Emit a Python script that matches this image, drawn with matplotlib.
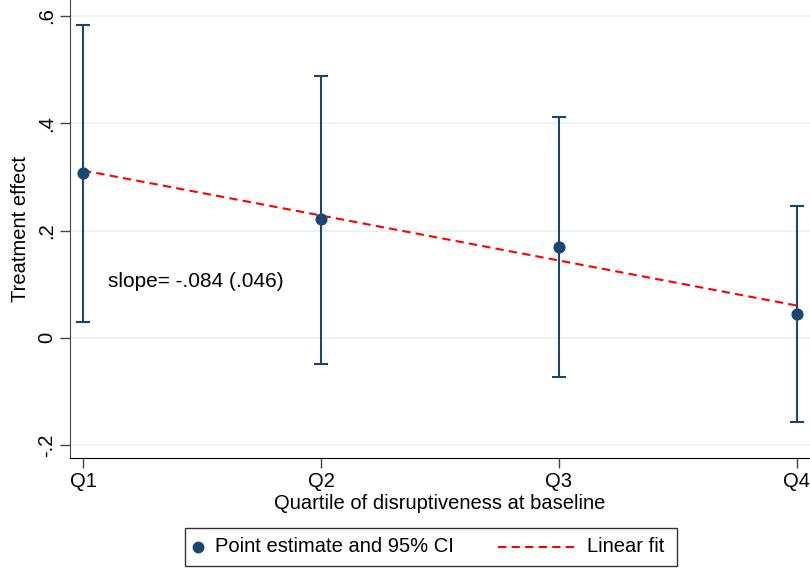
import numpy as np
import matplotlib
matplotlib.use("Agg")
import matplotlib.pyplot as plt
from matplotlib.lines import Line2D
from matplotlib.patches import Rectangle

plt.rcParams["font.family"] = ["Liberation Sans", "DejaVu Sans"]

# data
quartiles = ["Q1", "Q2", "Q3", "Q4"]
xpos = [1, 2, 3, 4]
estimate = [0.308, 0.221, 0.170, 0.045]
ci_low = [0.030, -0.049, -0.073, -0.157]
ci_high = [0.583, 0.488, 0.411, 0.245]
yticks = [-0.2, 0, 0.2, 0.4, 0.6]
ytick_labels = ["-.2", "0", ".2", ".4", ".6"]
slope_text = "slope= -.084 (.046)"

NAVY = "#1a476f"
GRID = "#eaf0f2"
DASH = (0, (4, 2.5))
FS = 14.5

fig = plt.figure(figsize=(8.1, 5.7), dpi=100)
fig.patch.set_facecolor("white")
W, H = 810, 570
ax = fig.add_axes([70 / W, 1 - 458 / H, 740 / W, 458 / H])

x = np.array(xpos, dtype=float)
y = np.array(estimate)
err = [y - np.array(ci_low), np.array(ci_high) - y]

for t in yticks:
    ax.axhline(t, color=GRID, lw=1.2, zorder=0)

ax.errorbar(x, y, yerr=err, fmt="none", ecolor=NAVY, elinewidth=1.5,
            capsize=5, capthick=1.5, zorder=2)

b, a = np.polyfit(x, y, 1)
ax.plot(x, a + b * x, color="red", lw=1.5, ls=DASH, zorder=3)
ax.scatter(x, y, s=60, color=NAVY, zorder=4)

ax.text(1.105, 0.105, slope_text, fontsize=15, va="center", ha="left")

ax.set_xlim(1 - 13 / 238, 4 + 13 / 238)
ax.set_ylim(-0.2 - 13 / 535, 0.6 + 16 / 535)
ax.set_xticks(xpos)
ax.set_xticklabels(quartiles, fontsize=FS)
ax.set_yticks(yticks)
ax.set_yticklabels(ytick_labels, fontsize=FS, rotation=90, va="center")
ax.tick_params(axis="both", length=7, width=1, color="#444444", pad=3)
ax.set_xlabel("Quartile of disruptiveness at baseline", fontsize=FS, labelpad=2)
ax.set_ylabel("Treatment effect", fontsize=FS, labelpad=5)

for side in ["top", "right"]:
    ax.spines[side].set_visible(False)
ax.spines["left"].set_color("#444444")
ax.spines["bottom"].set_color("black")

# legend box, drawn by hand to match the spacing of the reference
fig.patches.append(Rectangle((185 / W, 1 - 566 / H), 492 / W, 38 / H,
                             transform=fig.transFigure, fc="white",
                             ec="#333333", lw=1))
ly = 1 - 547 / H
fig.lines.append(Line2D([198 / W], [ly], marker="o", color=NAVY,
                        markersize=7.5, ls="none", transform=fig.transFigure))
fig.text(215 / W, ly, "Point estimate and 95% CI", fontsize=FS,
         va="center", ha="left")
fig.lines.append(Line2D([498 / W, 576 / W], [ly, ly], color="red", lw=1.5,
                        ls=DASH, transform=fig.transFigure))
fig.text(587 / W, ly, "Linear fit", fontsize=FS, va="center", ha="left")

fig.savefig("out.png", dpi=100, facecolor="white")
